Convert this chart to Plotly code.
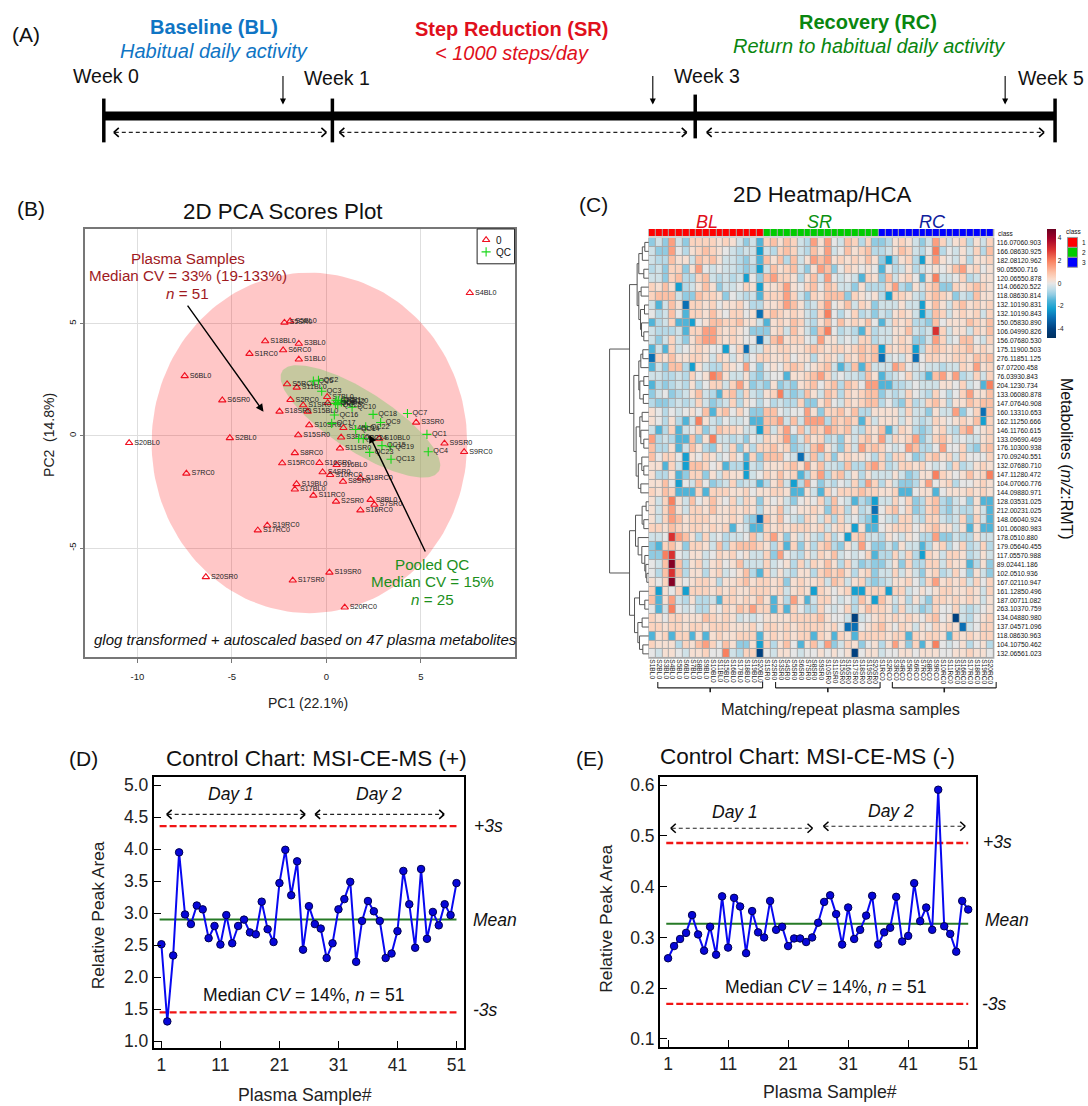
import numpy as np
import plotly.graph_objects as go

W, H = 1088, 1106
FONT = "Liberation Sans"

# ---------- Panel B: PCA scores ----------
sample_names = ["S5SR0","S5BL0","S18BL0","S3BL0","S6RC0","S1RC0","S1BL0","S6BL0","S5RC0","S11BL0","S6SR0","S2RC0","S1SR0",
 "S18SR0","S15BL0","S10SR0","S15SR0","S2BL0","S20BL0","S4BL0","S7BL0","S9BL0","S3SR0","S14BL0","S3RC0","S10BL0","S9SR0",
 "S11SR0","S9RC0","S8RC0","S15RC0","S16SR0","S16BL0","S4SR0","S10RC0","S18RC0","S8SR0","S19BL0","S17BL0","S11RC0","S2SR0",
 "S8BL0","S7SR0","S16RC0","S19RC0","S17RC0","S7RC0","S20SR0","S17SR0","S19SR0","S20RC0"]
sample_pc1 = [-2.22,-1.92,-3.24,-1.46,-2.29,-4.07,-1.46,-7.50,-2.08,-1.57,-5.51,-1.90,-1.23,-2.48,-0.99,-0.91,-1.49,-5.11,-10.44,
 7.59,0.04,0.07,4.75,0.90,0.78,2.80,6.25,0.72,7.29,-1.67,-2.34,-0.37,0.54,-0.20,0.20,1.80,0.88,-1.58,-1.67,-0.69,0.51,2.34,2.54,
 1.80,-3.13,-3.63,-7.41,-6.38,-1.78,0.16,0.97]
sample_pc2 = [5.04,5.10,4.21,4.10,3.81,3.65,3.40,2.66,2.30,2.15,1.58,1.60,1.36,1.08,1.08,0.47,0.03,-0.10,-0.32,6.36,1.73,1.46,0.59,
 0.35,-0.07,-0.13,-0.34,-0.56,-0.72,-0.77,-1.22,-1.21,-1.30,-1.62,-1.74,-1.89,-2.04,-2.15,-2.39,-2.66,-2.93,-2.85,-3.07,-3.32,
 -3.99,-4.21,-1.68,-6.29,-6.44,-6.09,-7.64]
qc_names = ["QC5","QC2","QC3","QC10","QC16","QC18","QC7","QC9","QC17","QC22","QC14","QC1","QC24","QC21","QC15","QC19","QC23",
 "QC4","QC13","QC6","QC8","QC11","QC12","QC20","QC25"]
qc_pc1 = [-0.69,-0.42,-0.25,1.36,0.42,2.47,4.29,2.87,0.28,2.08,1.55,5.32,1.95,1.71,2.94,3.37,2.29,5.39,3.42,0.51,0.48,0.63,0.79,0.95,0.60]
qc_pc2 = [2.44,2.47,1.98,1.27,0.92,0.95,0.99,0.59,0.55,0.40,0.28,0.06,-0.13,-0.12,-0.44,-0.49,-0.74,-0.71,-1.05,1.58,1.44,1.58,1.49,1.54,1.38]
# confidence ellipses: centre (pc1, pc2), semi-axes and tilt
ell_sample = dict(cx=-0.90, cy=-0.32, rx=8.35, ry=7.58, tilt=0.0)
ell_qc = dict(cx=1.80, cy=0.64, rx=93.2/18.93, ry=30/18.93, tilt=32.8)

# ---------- Panel C: heatmap ----------
col_ids = ["S1","S2","S3","S4","S5","S6","S7","S8","S9","S10","S11","S15","S16","S17","S18","S19","S20"]
col_labels = [s + c + "0" for c in ["BL","SR","RC"] for s in col_ids]
col_class = [1]*17 + [2]*17 + [3]*17
row_labels = ["116.07060.903","166.08630.925","182.08120.962","90.05500.716","120.06550.878","114.06620.522","118.08630.814",
 "132.10190.831","132.10190.843","150.05830.890","106.04990.826","156.07680.530","175.11900.503","276.11851.125","67.07200.458",
 "76.03930.843","204.1230.734","133.06080.878","147.07640.908","160.13310.653","162.11250.666","146.11760.615","133.09690.469",
 "176.10300.938","170.09240.551","132.07680.710","147.11280.472","104.07060.776","144.09880.971","128.03531.025","212.00231.025",
 "148.06040.924","101.06080.983","178.0510.880","179.05640.455","117.05570.988","89.02441.186","102.0510.936","167.02110.947",
 "161.12850.496","187.00711.082","263.10370.759","134.04880.980","137.04571.096","118.08630.963","104.10750.462","132.06561.023"]
level = dict(A=-4, B=-3, C=-2.2, D=-1.5, E=-1, F=-.6, G=-.3, H=0, I=.3, J=.6, K=1, L=1.5, M=2, N=3, O=4.4)
heat_rows = [
"EGELGEJJJJIJIGEGD JKIKJGFLILHGKJFJE EFIJIGEGLJGIJFIGJ",
"GEELHFIJKJIHGFGGC GFJKJGFKILGHKIJKF FGIKJGFHMFHGIGJFK",
"GFFKIIGKJKIGGFEGD KIKFKGILKLIJIJIKI ECFIJFCILIHGIFIIJ",
"FGEJJEILHGHGGFEFC GKIJKGEILKEHJIHIH DHFGIFGHIHIKLIJHI",
"GGEJKFFJKGFGFGCHE KLJJIFIKGLHGHGDJI EKGIJHDIMGGHJFGII",
"JIKICFGIKIEGGHJIC IIJLIHJKHKJGGEIFF FJLFEIGJKEEJIJKJI",
"JKKKGEEKJJIEHGFGD JJJLJGEJIKKKEJIHI FCJJIGFJKJIEGFKII",
"GDGKIBJJIJHIIJHFF IIJLKIFGJLHIKGJIE GGGIGGCIKIGJKIJIJ",
"HFGKHDJJIKIHJJHIB JKJIJIGFJMHFHJFGE GFIJIGCFKJGIJIJGJ",
"DFGJDDCHIKKJJKIIG DIJIKJGFIKHKIJIKH DGJIJFFEKHIIIKJIK",
"GFFFGDJJLLJIJIHEE EIJGKIGEKMHFGFDJF GGIIKGFGNJGIIGJIK",
"GEGJGEIKLLJIJIHHB GKLIJJHGLIIGHGJJF GGIJIEEGLJGHKKHGJ",
"DGDJGHIJIHHCHJBGG JIJJIIJKJIJJIJKJK CJIJJCFJKJIJJKIJI",
"BJIKIIJJIGJIGIFHJ JIIJHIIFIJIGJIKJK BGHGIBHJJIIJJIKJK",
"DGEKKFCIGFFJIHLHE HIHJKJHIJKGDFKDKG GGLKHGHGGFGGJILIJ",
"GGFFGFJHIMLIGGIFE GHHDIIJKLJGHGGFKI DFGHJGFDKLILFGJGJ",
"DFEFGFIFHJJGJLIEF EIEFEIJKHJKFKJHLL DDFFGHGGGIIHJGHDM",
"EGHEFGIKGFDJKFJGF IJMFEFKIGKJFJIJKK EGFGJHGFJHFHJLIIK",
"FEEFGFGJGEFGJFIHF HFGFFJEEIKHGJIJKK FHFEJFGJKIFIIKJKK",
"IHFHGHIHKDJKHJHEE KKHGHHLIEJJKIKFFI IIIGJGGEIGGLEHJBK",
"IHFIFDGMIGFHGGHDD KKLGKGLLLFKJKJDJG IIIGIGFGJIHIJIKCJ",
"GDFJDGHJEGKJJIGGC KGJLHKGKJLKJKGFJI KDGJIFEFIJGFKLHIJ",
"LFGFDDKEIMGGFGEHG JIJLEGKIJFGEIGJKI LGJIJLEGJKIGHGGIJ",
"KFFIDGKIFEIGJEIFJ JKIJEFGKLIGEJGLJK JHGHLKFFHLHHJFEJK",
"KHJJHCIHJIGHJHDJE KKKHGBGKFJEIJIIHF JFJJHEFJKIJGJHHHJ",
"IIDJGCKKJHIDFFCGF IIIJKILIKGGFKFFKL JFGJJIJHGHFJFGIJI",
"IFFIDEJJEIGJIICGH JIKIJDFJLFJKGIFIG GGIGEFIIMJIHIKIJM",
"IIKHCHGKHEFGJFGGD FIKGCFLHEGFHGJFLJ FIGEEFILHIJFHHIJI",
"JIKJDDDJDJJJIIJHI IJJIDDIGDJHJJJKJJ IIJDDHIIDHIIIJIJI",
"IGJMIGKHIKIHJGJIE IHIGEHIHJFKHGDFEC GGJHJEFJKFEGHEIDD",
"IGJLIGJJIKIIJIJIF IIKGHIIJIEKJFIFGB HJKHJEFJKFEGFFIGD",
"IGJLKIJJJIIIJIFEB KIKHGFJIGJFJGHFEC HGFJJGFJJGFGJEJGD",
"JJIKJIJJIJIJDHGDD JIJIJJJIJGIJICIDD HIJJJHIJKIIGIDIDD",
"GGHNLKIFJGHFGGHKG JLIEIGIGFJFHCJKGG FIHGIHFFLEEGFFIGG",
"EDJKIEJJIGKFJKKKJ IFJDJEIFJKFEIGLHE EGEIGGDFIJFHJFGJF",
"EEMNHGIIGHJIJHIGG JELHGFIGJIKGHGHJD FFJGJFCJIGJJIFGIG",
"HGKOKFIJGIJHIKGGG JGHIFJGJIKIFJGEFE EGIEJFFJJGJIIDFIE",
"HFKNKFIIFIJGHIKFD JGIGFIIFJKJKIFIJE GGJGIGEIJFGJHEIGE",
"IHJOIHIJJIFIIJKIJ JIJEIJIIJGKJGIJFE FGIIJHFJLIJIJGJHJ",
"JCIHJCJJJIJIJIIJJ JIJGIJICJIHIJCCJJ JCJJGHIHIJJIIJIGJ",
"KDILGFIFFGDJJIJIK IDIFLIDGJJHGHFKIC KIGIFIGEJJIJIJIGI",
"HDGMHGHFFIHJIKJLJ JDJDJHFFJHGHJFIKJ JIFJGGEFJHHJGFGHI",
"JIHJJIIIKJIJIGHGH IIIIJJJJKIHHGAGHI JIJIJIHJKHIAGFHIJ",
"JJIJJIJJIJJJIIIJH JJIJIJJJJIJHBBHIJ KIHJIGIHJIJIBGHJJ",
"DIJDJJDIDIJIIJJJD IJIJIJJDJIDJIDJJJ JIJJDJIJJIDJIJIJJ",
"JIIIFJIKLJHKIEEIC JFIKHDIKGLEGJIEHI FILIEJDIMHGHIFHIF",
"HGIIHGIIJHHMGFJJA HGIIHGHHIHIHIAHII GHHIIHIIIHHIIJIIH",
]
heat_z = [[level[c] for c in r.replace(" ", "")] for r in heat_rows]
heat_scale_stops = [(-4.8,"#00305f"),(-4,"#00407f"),(-3,"#0a6fb4"),(-2.2,"#14a0d0"),(-1.5,"#50b4d8"),(-1,"#90cbe2"),(-.5,"#c0dde8"),
 (0,"#e6e6e6"),(.4,"#fbdccb"),(1,"#fcc0a5"),(1.5,"#fc9f80"),(2,"#f8805f"),(3,"#d93030"),(4,"#a00028"),(4.8,"#6b0020")]
# Row dendrogram: (merge height, child, child); an integer child is a row index
dend_tree = (39.3,
 (19.3,
  (11.7,
   (10,(6.5,(4,0,1),2),(5,3,4)),
   (10,(7.7,5,6),(8.3,(4.3,7,8),(7.3,9,(5,10,11))))),
  (15,
   (10,(8,(6,12,13),14),(9,(5,15,16),(5.5,17,18))),
   (12.7,(9,(6.7,19,20),(8,21,(5,22,23))),(10.5,(7,24,(5,25,26)),(8,27,28))))),
 (19.3,
  (13.3,(6.7,(2.7,29,30),(5,31,32)),(10.7,33,(7,34,(4,35,(3,36,(2,37,38)))))),
  (14.3,(9.3,39,(4,40,41)),(11,(6.7,42,43),(9.3,44,(6,45,46))))))

# ---------- Panels D / E: control charts ----------
sample_no = list(range(1, 52))
pos_area = [2.515,1.31,2.34,3.95,2.98,2.83,3.12,3.06,2.61,2.80,2.51,2.97,2.53,2.80,2.90,2.70,2.67,3.18,2.75,2.55,3.47,3.99,3.28,3.81,
 2.43,3.11,2.83,2.76,2.30,2.53,3.06,3.22,3.49,2.24,2.88,3.19,3.03,2.88,2.30,2.37,2.72,3.66,3.14,2.46,3.69,2.60,3.02,2.81,3.14,2.97,3.47]
pos_mean, pos_up, pos_lo = 2.90, 4.36, 1.45
neg_area = [.259,.283,.297,.309,.344,.306,.274,.321,.266,.381,.280,.378,.361,.269,.352,.310,.300,.372,.315,.321,.283,.298,.298,.291,.300,
 .329,.370,.383,.346,.286,.359,.297,.315,.343,.382,.286,.310,.319,.380,.292,.303,.407,.332,.359,.315,.591,.322,.307,.272,.372,.355]
neg_mean, neg_up, neg_lo = .327, .486, .169

# ---------- helpers (pixel -> paper) ----------
def X(p): return p / W
def Y(p): return 1 - p / H
def dom_x(a, b): return [X(a), X(b)]
def dom_y(top, bot): return [Y(bot), Y(top)]

fig = go.Figure()
annos, shapes = [], []

def txt(x, y, s, size, color="#111", anchor="center", angle=0, bold=False):
    annos.append(dict(xref="paper", yref="paper", x=X(x), y=Y(y), text=f"<b>{s}</b>" if bold else s, showarrow=False,
        xanchor=anchor, yanchor="middle", align="center", textangle=angle, font=dict(family=FONT, size=size, color=color)))

def arrow(x0, y0, x1, y1, width=1.3, color="#000", head=2, hs=1.0):
    annos.append(dict(xref="paper", yref="paper", x=X(x1), y=Y(y1), ax=x0 - x1, ay=y0 - y1, axref="pixel", ayref="pixel",
        text="", showarrow=True, arrowhead=head, arrowwidth=width, arrowcolor=color, arrowsize=hs, standoff=0, startstandoff=0))

def seg(x0, y0, x1, y1, color="#000", width=1, dash=None, layer="above"):
    shapes.append(dict(type="line", xref="paper", yref="paper", x0=X(x0), y0=Y(y0), x1=X(x1), y1=Y(y1), layer=layer,
        line=dict(color=color, width=width, dash=dash)))

def rect(x0, y0, x1, y1, fill=None, line=None, lw=1, layer="above"):
    shapes.append(dict(type="rect", xref="paper", yref="paper", x0=X(x0), y0=Y(y0), x1=X(x1), y1=Y(y1), layer=layer,
        fillcolor=fill or "rgba(0,0,0,0)", line=dict(color=line or "rgba(0,0,0,0)", width=lw)))

def double_arrow(x0, x1, y, ch=4.5, dx=5):
    seg(x0 + 1, y, x1 - 1, y, "#222", 1.2, "4px,3px")
    for tip, d in ((x0, dx), (x1, -dx)):
        seg(tip + d, y - ch, tip, y, "#000", 1.6)
        seg(tip, y, tip + d, y + ch, "#000", 1.6)

# ---------- Panel A ----------
txt(26, 32.5, "(A)", 21)
txt(214, 25, "Baseline (BL)", 20, "#0f75c4", bold=True)
txt(214.5, 49, "<i>Habitual daily activity</i>", 20, "#0f75c4")
txt(512, 27, "Step Reduction (SR)", 20, "#e0101c", bold=True)
txt(512.5, 51, "<i>&lt; 1000 steps/day</i>", 20, "#e0101c")
txt(870, 20.5, "Recovery (RC)", 20, "#0a860f", bold=True)
txt(871, 44, "<i>Return to habitual daily activity</i>", 20, "#0a860f")
week_labels = ["Week 0", "Week 1", "Week 3", "Week 5"]
for lab, tx, ty in zip(week_labels, [106, 337.5, 708, 1053], [74, 76, 74, 76]):
    txt(tx, ty, lab, 19.5)
for x, y0, y1 in [(104, 97, 141), (333, 97, 141), (696.5, 93, 137), (1057, 97, 141)]:
    seg(x, y0, x, y1, "#000", 3.5)
rect(104, 110, 1057, 119, fill="#000")
for x in (283.5, 654, 1007):
    arrow(x, 73, x, 103, 1.1, hs=1.1)
double_arrow(114, 327, 131)
double_arrow(340, 688, 131)
double_arrow(708, 1046, 131)

# ---------- Panel B ----------
bx0, bx1, by0, by1 = 85, 515.5, 228, 658.3
xr = [(bx0 - 327) / 18.93, (bx1 - 327) / 18.93]
yr = [(435.7 - by1) / 22.56, (435.7 - by0) / 22.56]
ax_b = dict(xaxis="x", yaxis="y")

def ellipse(e):
    t = np.linspace(0, 2 * np.pi, 181)
    a = np.radians(e["tilt"])
    ux, uy = e["rx"] * np.cos(t), e["ry"] * np.sin(t)
    if not e["tilt"]:
        return e["cx"] + ux, e["cy"] + uy
    # tilt is defined on screen, so convert through the aspect of the plot
    sx = ux * np.cos(a) - uy * np.sin(a)
    sy = ux * np.sin(a) + uy * np.cos(a)
    return e["cx"] + sx, e["cy"] - sy * 18.93 / 22.56

TRI = dict(symbol="triangle-up-open", size=6.5, color="#f01020", line=dict(width=1.1, color="#f01020"))
CRS = dict(symbol="cross-thin-open", size=6.5, color="#18d818", line=dict(width=1.1, color="#18d818"))
ex, ey = ellipse(ell_sample)
fig.add_trace(go.Scatter(x=ex, y=ey, mode="lines", fill="toself", fillcolor="rgba(255,0,0,0.22)", line=dict(width=0), hoverinfo="skip", **ax_b))
ex, ey = ellipse(ell_qc)
fig.add_trace(go.Scatter(x=ex, y=ey, mode="lines", fill="toself", fillcolor="rgba(141,202,120,0.5)", line=dict(width=0), hoverinfo="skip", **ax_b))
fig.add_trace(go.Scatter(x=sample_pc1, y=sample_pc2, mode="markers+text", text=sample_names, textposition="middle right",
    textfont=dict(family=FONT, size=7.2, color="#222"), name="0", marker=TRI, **ax_b))
fig.add_trace(go.Scatter(x=qc_pc1, y=qc_pc2, mode="markers+text", text=qc_names, textposition="middle right",
    textfont=dict(family=FONT, size=7.2, color="#222"), name="QC", marker=CRS, **ax_b))
# legend box, drawn in the plot's own data units
def bpx(px, py): return (px - 327) / 18.93, (435.7 - py) / 22.56
rect(478, 228, 515.5, 263, line="#222", lw=1)
lg1, lg2 = bpx(487, 239), bpx(487, 251)
fig.add_trace(go.Scatter(x=[lg1[0]], y=[lg1[1]], mode="markers", marker=TRI, **ax_b))
fig.add_trace(go.Scatter(x=[lg2[0]], y=[lg2[1]], mode="markers", marker=CRS, **ax_b))
txt(495, 240, "0", 10, anchor="left")
txt(495, 251.5, "QC", 10, anchor="left")

txt(31, 207, "(B)", 21)
txt(284, 210, "2D PCA Scores Plot", 22.3)
txt(188, 258, "Plasma Samples", 15.2, "#a01a1e")
txt(188, 275, "Median CV = 33% (19-133%)", 15.2, "#a01a1e")
txt(188, 293, "<i>n</i> = 51", 15.2, "#a01a1e")
arrow(187, 304, 264, 411.7, 1.4, hs=1.1)
txt(433, 565, "Pooled QC", 15.2, "#1c901c")
txt(433, 582, "Median CV = 15%", 15.2, "#1c901c")
txt(433, 600, "<i>n</i> = 25", 15.2, "#1c901c")
arrow(426.7, 553, 370, 435, 1.4, hs=1.1)
txt(306, 640, "<i>glog transformed + autoscaled based on 47 plasma metabolites</i>", 15)
txt(309, 704, "PC1 (22.1%)", 14, "#222")
txt(49, 435, "PC2  (14.8%)", 14, "#222", angle=-90)

# ---------- Panel C ----------
hx0, hx1, hy0, hy1 = 650, 995.7, 237, 659.3
rect(hx0 - .5, hy0 - .5, hx1 + .5, hy1 + .5, fill="#a8a8a8", layer="below")
rect(hx0 - .5, 228, hx1 + .5, 235.5, fill="#a8a8a8", layer="below")
cs = [[(v + 4.8) / 9.6, c] for v, c in heat_scale_stops]
fig.add_trace(go.Heatmap(z=heat_z, x=col_labels, y=row_labels, xaxis="x2", yaxis="y2", colorscale=cs, zmin=-4.8, zmax=4.8, xgap=1, ygap=1,
    colorbar=dict(x=1049 / W, xanchor="left", y=Y(228), yanchor="top", len=109, lenmode="pixels", thickness=8.5, thicknessmode="pixels",
        xpad=0, ypad=0, outlinewidth=0, tickvals=[-4, -2, 0, 2, 4], ticktext=["-4", "-2", "0", "2", "4"], ticks="",
        tickfont=dict(family=FONT, size=6.5, color="#222"))))
fig.add_trace(go.Heatmap(z=[col_class], x=col_labels, y=["class"], xaxis="x3", yaxis="y3", showscale=False, xgap=1, zmin=1, zmax=3,
    colorscale=[[0, "#ff0000"], [.33, "#ff0000"], [.34, "#00cc00"], [.66, "#00cc00"], [.67, "#0000ff"], [1, "#0000ff"]]))

def walk(node, segs):
    if isinstance(node, int):
        return float(node), 0.0
    h, a, b = node
    ya, ha = walk(a, segs)
    yb, hb = walk(b, segs)
    segs.append(([ha, h, h, hb, None], [ya, ya, yb, yb, None]))
    return (ya + yb) / 2, h

segs = []
walk(dend_tree, segs)
fig.add_trace(go.Scatter(x=sum((s[0] for s in segs), []), y=sum((s[1] for s in segs), []), xaxis="x4", yaxis="y4", mode="lines",
    line=dict(color="#555", width=1), hoverinfo="skip"))

txt(595, 203, "(C)", 21)
txt(824, 193, "2D Heatmap/HCA", 22.3)
txt(708, 221, "<i>BL</i>", 18, "#e0101c")
txt(821, 221, "<i>SR</i>", 18, "#0a9010")
txt(934, 221, "<i>RC</i>", 18, "#10209c")
txt(998, 232.5, "class", 6.5, anchor="left")
txt(1076, 231, "class", 6.5)
for i, c in enumerate(["#ff0000", "#00cc00", "#0000ff"]):
    rect(1069.5, 236.5 + 10 * i, 1079.5, 246.5 + 10 * i, fill=c, line="#999", lw=1)
    txt(1082, 241.5 + 10 * i, str(i + 1), 6.5, anchor="left")
txt(1068, 459, "Metabolites (<i>m/z</i>:RMT)", 16, angle=90)
txt(842, 710, "Matching/repeat plasma samples", 16.3, "#222")
for a, b in [(659, 764), (777, 881.7), (894, 998)]:
    seg(a, 683, a, 689, "#222", 1.1)
    seg(b, 683, b, 689, "#222", 1.1)
    seg(a, 689, b, 689, "#222", 1.1)
    seg((a + b) / 2, 689, (a + b) / 2, 693.5, "#222", 1.6)

# ---------- Panels D / E ----------
def control(xa, ya, vals, mean, up, lo):
    xs = [sample_no[0] - 0.3, sample_no[-1]]
    fig.add_trace(go.Scatter(x=xs, y=[mean, mean], xaxis=xa, yaxis=ya, mode="lines", line=dict(color="#267a26", width=2)))
    for v in (up, lo):
        fig.add_trace(go.Scatter(x=xs, y=[v, v], xaxis=xa, yaxis=ya, mode="lines", line=dict(color="#f01414", width=2.3, dash="7px,3px")))
    fig.add_trace(go.Scatter(x=sample_no, y=vals, xaxis=xa, yaxis=ya, mode="lines+markers", line=dict(color="#0808f0", width=2),
        marker=dict(size=7.5, color="#0606d8", line=dict(color="#000050", width=1))))

control("x5", "y5", pos_area, pos_mean, pos_up, pos_lo)
control("x6", "y6", neg_area, neg_mean, neg_up, neg_lo)

txt(84, 760, "(D)", 21)
txt(316.7, 759.7, "Control Chart: MSI-CE-MS (+)", 22.5)
txt(97.7, 918, "Relative Peak Area", 17.4, "#222", angle=-90)
txt(305.7, 1098, "Plasma Sample#", 17.7, "#222")
txt(231, 796, "<i>Day 1</i>", 17.5)
txt(380, 796, "<i>Day 2</i>", 17.5)
double_arrow(167, 305.7, 816)
double_arrow(315.7, 445, 816)
txt(489, 828, "<i>+3s</i>", 17.5)
txt(496, 922, "<i>Mean</i>", 17.5)
txt(486, 1013, "<i>-3s</i>", 17.5)
txt(305, 998, "Median <i>CV</i> = 14%, <i>n</i> = 51", 17.6)

txt(591, 760, "(E)", 21)
txt(809, 758, "Control Chart: MSI-CE-MS (-)", 22.5)
txt(607, 921, "Relative Peak Area", 17.4, "#222", angle=-90)
txt(832, 1095, "Plasma Sample#", 17.7, "#222")
txt(736.7, 814, "<i>Day 1</i>", 17.5)
txt(892.7, 813, "<i>Day 2</i>", 17.5)
double_arrow(672, 814, 830)
double_arrow(825, 967, 828)
txt(999, 844, "<i>+3s</i>", 17.5)
txt(1009, 922, "<i>Mean</i>", 17.5)
txt(996, 1007, "<i>-3s</i>", 17.5)
txt(828, 989, "Median <i>CV</i> = 14%, <i>n</i> = 51", 17.6)

# ---------- Axes ----------
grey = "#777"
ctrl_x = dict(tickvals=[1, 11, 21, 31, 41, 51], ticks="inside", ticklen=7, tickwidth=1.4, tickcolor="#000", showgrid=False, zeroline=False,
    showline=True, mirror=True, linecolor="#000", linewidth=2, tickfont=dict(family=FONT, size=17.5, color="#222"))
ctrl_y = dict(ctrl_x, tickvals=None, tickformat=".1f")
fig.update_layout(
    width=W, height=H, margin=dict(l=0, r=0, t=0, b=0), paper_bgcolor="#fff", plot_bgcolor="#fff", showlegend=False,
    annotations=annos, shapes=shapes,
    xaxis=dict(domain=dom_x(bx0, bx1), range=xr, tickvals=[-10, -5, 0, 5], ticktext=["-10", "-5", "0", "5"], showgrid=True, gridcolor="#dedede",
        gridwidth=1.2, zeroline=False, showline=True, mirror=True, linecolor=grey, linewidth=1.6, ticks="outside", ticklen=4, tickcolor=grey,
        ticklabelstandoff=5, tickfont=dict(family=FONT, size=9.5, color="#222")),
    yaxis=dict(domain=dom_y(by0, by1), range=yr, tickvals=[-5, 0, 5], ticktext=["-5", "0", "5"], showgrid=True, gridcolor="#dedede", gridwidth=1.2,
        zeroline=False, showline=True, mirror=True, linecolor=grey, linewidth=1.6, ticks="outside", ticklen=3, tickcolor=grey, tickangle=-90,
        tickfont=dict(family=FONT, size=9.5, color="#222")),
    xaxis2=dict(domain=dom_x(hx0, hx1), type="category", categoryorder="array", categoryarray=col_labels, tickangle=90, ticks="", showgrid=False,
        zeroline=False, tickfont=dict(family=FONT, size=6.6, color="#222"), anchor="y2", tickvals=col_labels, ticktext=col_labels),
    yaxis2=dict(domain=dom_y(hy0, hy1), type="category", autorange="reversed", side="right", ticks="", showgrid=False, zeroline=False,
        ticklabelstandoff=2, tickfont=dict(family=FONT, size=6.7, color="#111"), anchor="x2", tickvals=row_labels, ticktext=row_labels,
        categoryorder="array", categoryarray=row_labels),
    xaxis3=dict(domain=dom_x(hx0, hx1), type="category", visible=False, anchor="y3", categoryorder="array", categoryarray=col_labels),
    yaxis3=dict(domain=dom_y(228, 235.5), type="category", visible=False, anchor="x3"),
    xaxis4=dict(domain=dom_x(610, 650), range=[40, 0], visible=False, anchor="y4"),
    yaxis4=dict(domain=dom_y(hy0, hy1), range=[46.5, -0.5], visible=False, anchor="x4"),
    xaxis5=dict(ctrl_x, domain=dom_x(154, 465.3), range=[-0.30, 52.35], anchor="y5"),
    yaxis5=dict(ctrl_y, domain=dom_y(778.7, 1051), range=[0.891, 5.124], tickvals=[1, 1.5, 2, 2.5, 3, 3.5, 4, 4.5, 5], anchor="x5"),
    xaxis6=dict(ctrl_x, domain=dom_x(661.3, 978), range=[-0.33, 52.33], anchor="y6"),
    yaxis6=dict(ctrl_y, domain=dom_y(778.7, 1050), range=[0.0837, 0.6157], tickvals=[.1, .2, .3, .4, .5, .6], anchor="x6"),
)
fig.write_html("out.html", config=dict(displayModeBar=False),
    post_script="document.body.style.margin='0';document.documentElement.style.overflow='hidden';")
